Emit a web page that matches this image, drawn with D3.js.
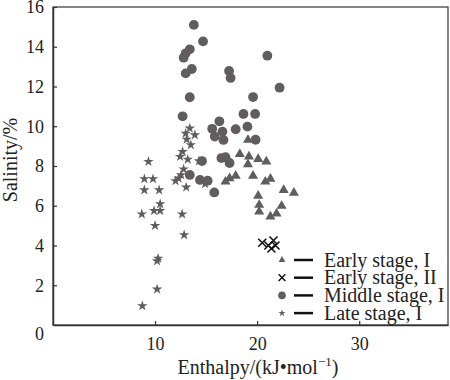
<!DOCTYPE html>
<html>
<head>
<meta charset="utf-8">
<script src="https://cdn.jsdelivr.net/npm/d3@7"></script>
<style>
  body { margin: 0; background: #fff; }
</style>
</head>
<body>
<svg id="chart" width="450" height="380"></svg>
<script>
// data: [enthalpy kJ/mol, salinity %]
const earlyI = [
  [19.1, 9.31], [18.3, 8.6], [19.2, 8.47], [20.1, 8.35], [20.9, 8.22], [19.1, 8.08],
  [17.9, 7.5], [17.3, 7.38], [16.9, 7.21], [19.6, 7.5], [21.3, 7.35], [20.8, 7.21],
  [22.6, 6.79], [23.6, 6.65], [20.1, 6.5], [20.2, 6.04], [22.4, 5.99], [20.2, 5.7],
  [21.9, 5.6], [21.3, 5.45]
];
const earlyII = [
  [20.5, 4.14], [21.1, 4.0], [21.6, 4.25], [21.8, 4.0], [21.4, 3.85]
];
const middleI = [
  [13.8, 15.1], [14.7, 14.27], [13.4, 13.87], [13.0, 13.67], [12.8, 13.45], [13.6, 12.88],
  [13.0, 12.66], [13.4, 11.46], [12.7, 10.5], [21.0, 13.55], [17.25, 12.78], [17.4, 12.43],
  [22.2, 11.94], [19.6, 11.47], [18.66, 10.62], [19.8, 10.62], [16.3, 10.25], [15.6, 9.87],
  [16.6, 9.73], [17.9, 9.85], [19.05, 9.98], [15.85, 9.48], [16.7, 9.31], [19.85, 9.32],
  [16.9, 8.44], [16.5, 8.4], [17.3, 8.15], [14.6, 8.25], [13.4, 7.55], [14.4, 7.3],
  [15.15, 7.26], [15.8, 6.67]
];
const lateI = [
  [13.4, 9.9], [13.0, 9.64], [13.9, 9.56], [13.1, 9.34], [13.5, 9.06], [12.7, 8.72],
  [12.45, 8.47], [13.2, 8.33], [14.3, 8.25], [12.8, 7.84], [12.55, 7.55], [12.3, 7.38],
  [12.0, 7.25], [13.05, 6.93], [14.9, 7.1], [9.35, 8.22], [8.95, 7.35], [9.8, 7.35],
  [8.95, 6.79], [10.4, 6.79], [10.5, 6.09], [8.7, 5.58], [9.9, 5.75], [10.5, 5.75],
  [12.65, 5.58], [10.0, 5.0], [12.85, 4.53], [10.3, 3.35], [10.2, 3.22], [10.2, 1.8],
  [8.75, 0.96]
];
const legendLabels = ['Early stage, I', 'Early stage, II', 'Middle stage, I', 'Late stage, I'];
const xTicks = [10, 20, 30];
const yTicks = [2, 4, 6, 8, 10, 12, 14, 16];

const serif = "'Liberation Serif', 'Times New Roman', Times, serif";
const svg = d3.select('#chart').style('font-family', serif);
const markColor = '#615d5f';

const margin = { top: 7, right: 2, bottom: 55, left: 53 };
const width = 450 - margin.left - margin.right;
const height = 380 - margin.top - margin.bottom;

const x = d3.scaleLinear().domain([0, 38.7]).range([0, width]);
const y = d3.scaleLinear().domain([0, 16]).range([height, 0]);

const g = svg.append('g')
  .attr('transform', `translate(${margin.left},${margin.top})`);

// frame
g.append('rect')
  .attr('width', width)
  .attr('height', height)
  .attr('fill', 'none')
  .attr('stroke', '#444')
  .attr('stroke-width', 1.3);

// axes, ticks pointing inside
const xAxis = g.append('g')
  .attr('transform', `translate(0,${height})`)
  .call(d3.axisBottom(x).tickValues(xTicks).tickSizeInner(-4).tickSizeOuter(0).tickPadding(12));
const yAxis = g.append('g')
  .call(d3.axisLeft(y).tickValues(yTicks).tickSizeInner(-4).tickSizeOuter(0).tickPadding(9));

[xAxis, yAxis].forEach(a => {
  a.attr('font-family', null).attr('font-size', null);
  a.select('.domain').attr('stroke', '#333').attr('stroke-width', 1.5);
  a.selectAll('.tick line').attr('stroke', '#333').attr('stroke-width', 1.2);
  a.selectAll('.tick text')
    .style('font-family', serif)
    .style('font-size', '18px')
    .attr('fill', '#222');
});

// origin label sits in the corner
g.append('text')
  .attr('x', x(0) - 9)
  .attr('y', y(0) + 15)
  .attr('text-anchor', 'end')
  .style('font-size', '18px')
  .attr('fill', '#222')
  .text('0');

// axis titles
const xTitle = svg.append('text')
  .attr('x', 258)
  .attr('y', 374)
  .attr('text-anchor', 'middle')
  .attr('fill', '#222')
  .style('font-size', '20px');
xTitle.append('tspan').text('Enthalpy/(kJ\u2022mol');
xTitle.append('tspan').style('font-size', '13px').attr('dy', -8).text('\u22121');
xTitle.append('tspan').attr('dy', 8).text(')');

svg.append('text')
  .attr('transform', 'translate(17,160) rotate(-90)')
  .attr('text-anchor', 'middle')
  .attr('fill', '#222')
  .style('font-size', '20px')
  .text('Salinity/%');

// marks
const star = d3.symbol().type(d3.symbolStar);
const tri = d3.symbol().type(d3.symbolTriangle);

g.append('g').selectAll('path')
  .data(lateI)
  .join('path')
  .attr('transform', d => `translate(${x(d[0])},${y(d[1])})`)
  .attr('d', star.size(34)())
  .attr('fill', markColor);

g.append('g').selectAll('circle')
  .data(middleI)
  .join('circle')
  .attr('cx', d => x(d[0]))
  .attr('cy', d => y(d[1]))
  .attr('r', 4.9)
  .attr('fill', markColor);

g.append('g').selectAll('path')
  .data(earlyI)
  .join('path')
  .attr('transform', d => `translate(${x(d[0])},${y(d[1])})`)
  .attr('d', tri.size(44)())
  .attr('fill', markColor);

const cross = (s) => `M${-s},${-s}L${s},${s}M${-s},${s}L${s},${-s}`;
g.append('g').selectAll('path')
  .data(earlyII)
  .join('path')
  .attr('transform', d => `translate(${x(d[0])},${y(d[1])})`)
  .attr('d', cross(4))
  .attr('stroke', '#111')
  .attr('stroke-width', 1.6);

// legend
const legend = svg.append('g').attr('transform', 'translate(282,260)');
const rowH = 17.7;
legendLabels.forEach((label, i) => {
  const row = legend.append('g').attr('transform', `translate(0,${i * rowH})`);
  if (i === 0) {
    row.append('path').attr('d', tri.size(20)()).attr('fill', markColor);
  } else if (i === 1) {
    row.append('path').attr('d', cross(3.4)).attr('stroke', '#111').attr('stroke-width', 1.4);
  } else if (i === 2) {
    row.append('circle').attr('r', 3.8).attr('fill', markColor);
  } else {
    row.append('path').attr('d', star.size(16)()).attr('fill', markColor);
  }
  row.append('line')
    .attr('x1', 12).attr('x2', 31)
    .attr('y1', 0).attr('y2', 0)
    .attr('stroke', '#111')
    .attr('stroke-width', 2.5);
  row.append('text')
    .attr('x', 42)
    .attr('y', 6.5)
    .attr('fill', '#222')
    .style('font-size', '20px')
    .text(label);
});
</script>
</body>
</html>
